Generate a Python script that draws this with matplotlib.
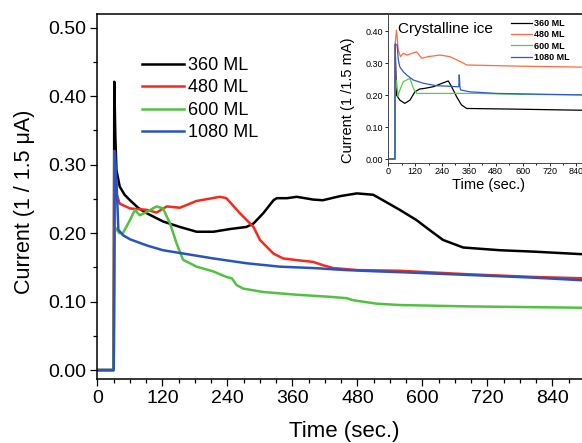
import numpy as np
import matplotlib
matplotlib.use("Agg")
import matplotlib.pyplot as plt
from matplotlib.ticker import MultipleLocator, FormatStrFormatter

plt.rcParams['font.family'] = ['Liberation Sans', 'DejaVu Sans']

# main panel: amorphous ice, current vs time
t360 = [0, 30, 31, 33, 35, 41, 50, 60, 75, 91, 121, 152, 183, 214, 245, 275, 288, 306, 325, 331, 350, 368, 398, 416, 448, 479, 509, 527, 558, 589, 614, 638, 675, 743, 804, 900]
i360 = [0, 0, 0.421, 0.34, 0.292, 0.268, 0.256, 0.248, 0.237, 0.229, 0.217, 0.209, 0.202, 0.202, 0.206, 0.209, 0.214, 0.229, 0.248, 0.251, 0.251, 0.253, 0.249, 0.248, 0.254, 0.258, 0.256, 0.248, 0.234, 0.219, 0.204, 0.190, 0.179, 0.175, 0.173, 0.169]

t480 = [0, 30, 31, 34, 41, 60, 91, 109, 128, 152, 183, 205, 226, 238, 263, 288, 300, 325, 343, 374, 398, 417, 435, 480, 558, 682, 804, 900]
i480 = [0, 0, 0.32, 0.26, 0.243, 0.236, 0.234, 0.230, 0.239, 0.237, 0.247, 0.250, 0.253, 0.251, 0.229, 0.209, 0.190, 0.170, 0.163, 0.160, 0.158, 0.153, 0.149, 0.146, 0.145, 0.140, 0.136, 0.134]

t600 = [0, 30, 31, 40, 47, 60, 69, 78, 91, 109, 121, 134, 146, 158, 183, 214, 238, 248, 257, 269, 306, 368, 429, 460, 472, 515, 558, 682, 900]
i600 = [0, 0, 0.21, 0.20, 0.200, 0.219, 0.234, 0.226, 0.231, 0.239, 0.236, 0.214, 0.185, 0.161, 0.151, 0.144, 0.136, 0.134, 0.124, 0.119, 0.114, 0.110, 0.107, 0.105, 0.102, 0.097, 0.095, 0.093, 0.091]

t1080 = [0, 30, 32, 35, 38.5, 47, 60, 91, 121, 152, 214, 275, 337, 398, 460, 521, 558, 682, 804, 900]
i1080 = [0, 0, 0.319, 0.278, 0.205, 0.197, 0.191, 0.182, 0.175, 0.171, 0.163, 0.156, 0.151, 0.149, 0.146, 0.144, 0.143, 0.139, 0.135, 0.131]

# inset: crystalline ice
ct360 = [0, 30, 31, 37, 52, 74, 97, 119, 141, 164, 201, 245, 268, 283, 305, 327, 350, 558, 900]
ci360 = [0, 0, 0.356, 0.20, 0.184, 0.174, 0.184, 0.21, 0.219, 0.221, 0.226, 0.238, 0.244, 0.226, 0.195, 0.169, 0.158, 0.156, 0.152]

ct480 = [0, 30, 31, 37, 45, 55, 67, 85, 104, 127, 149, 178, 231, 275, 335, 350, 600, 900]
ci480 = [0, 0, 0.36, 0.403, 0.34, 0.32, 0.33, 0.325, 0.33, 0.335, 0.315, 0.32, 0.325, 0.32, 0.30, 0.294, 0.29, 0.287]

ct600 = [0, 30, 31, 37, 44, 49, 67, 97, 112, 127, 409, 600, 900]
ci600 = [0, 0, 0.20, 0.247, 0.195, 0.21, 0.242, 0.252, 0.221, 0.205, 0.205, 0.202, 0.20]

ct1080 = [0, 30, 31, 40, 45, 52, 67, 82, 112, 156, 216, 260, 305, 315, 317, 320, 323, 364, 484, 900]
ci1080 = [0, 0, 0.36, 0.356, 0.31, 0.288, 0.273, 0.263, 0.247, 0.237, 0.229, 0.228, 0.226, 0.226, 0.263, 0.226, 0.216, 0.21, 0.205, 0.20]

labels = ["360 ML", "480 ML", "600 ML", "1080 ML"]
colors = ["#000000", "#f42a1c", "#52c142", "#2a53c2"]
inset_colors = ["#000000", "#ff6a40", "#55cc44", "#2a5ad0"]

fig = plt.figure(figsize=(5.82, 4.43), dpi=100)

ax = fig.add_axes([0.1675, 0.1445, 0.8376, 0.824])
for t, y, c, lab in zip([t360, t480, t600, t1080], [i360, i480, i600, i1080], colors, labels):
	ax.plot(t, y, color=c, lw=1.8, label=lab)

ax.set_xlim(0, 900)
ax.set_ylim(-0.013, 0.52)
ax.xaxis.set_major_locator(MultipleLocator(120))
ax.xaxis.set_minor_locator(MultipleLocator(30))
ax.yaxis.set_major_locator(MultipleLocator(0.1))
ax.yaxis.set_minor_locator(MultipleLocator(0.05))
ax.yaxis.set_major_formatter(FormatStrFormatter('%.2f'))
ax.tick_params(which='major', direction='out', length=5, width=0.9, labelsize=14, pad=3)
ax.tick_params(which='minor', direction='out', length=3, width=0.9)
ax.spines['right'].set_visible(False)
for s in ['left', 'bottom', 'top']:
	ax.spines[s].set_linewidth(1.1)

ax.set_xlabel('Time (sec.)', fontsize=16, va='center')
ax.set_ylabel('Current (1 / 1.5 \u03bcA)', fontsize=15.5, va='center')
ax.xaxis.set_label_coords(0.506, -0.144)
ax.yaxis.set_label_coords(-0.149, 0.486)

ax.legend(loc='upper left', bbox_to_anchor=(142 / 582, 1 - 57 / 443), bbox_transform=fig.transFigure,
	frameon=False, fontsize=13, handlelength=2.3, handletextpad=0.25, labelspacing=0.3, borderpad=0, borderaxespad=0)

# inset
ins = fig.add_axes([0.667, 0.6327, 0.3466, 0.334])
ins.set_facecolor('white')
for t, y, c, lab in zip([ct360, ct480, ct600, ct1080], [ci360, ci480, ci600, ci1080], inset_colors, labels):
	ins.plot(t, y, color=c, lw=0.9, label=lab)

ins.set_xlim(0, 900)
ins.set_ylim(-0.0116, 0.451)
ins.xaxis.set_major_locator(MultipleLocator(120))
ins.xaxis.set_minor_locator(MultipleLocator(60))
ins.yaxis.set_major_locator(MultipleLocator(0.1))
ins.yaxis.set_major_formatter(FormatStrFormatter('%.2f'))
ins.tick_params(which='major', direction='out', length=2.2, width=0.6, labelsize=6.5, pad=1.2)
ins.tick_params(which='minor', direction='out', length=1.3, width=0.6)
ins.spines['right'].set_visible(False)
ins.spines['top'].set_visible(False)
for s in ['left', 'bottom']:
	ins.spines[s].set_linewidth(0.7)
	ins.spines[s].set_color('#444444')

ins.set_xlabel('Time (sec.)', fontsize=10.5, va='center')
ins.set_ylabel('Current (1 /1.5 mA)', fontsize=10.5, va='center')
ins.xaxis.set_label_coords(0.496, -0.15)
ins.yaxis.set_label_coords(-0.2, 0.42)

ins.text(0.048, 0.905, 'Crystalline ice', transform=ins.transAxes, fontsize=11, va='center', ha='left')

ins.legend(loc='upper left', bbox_to_anchor=(511 / 582, 1 - 19 / 443), bbox_transform=fig.transFigure,
	frameon=False, prop={'size': 6.5, 'weight': 'bold'}, handlelength=2.3, handletextpad=0.25,
	labelspacing=0.25, borderpad=0, borderaxespad=0)

fig.savefig('out.png', dpi=100)
